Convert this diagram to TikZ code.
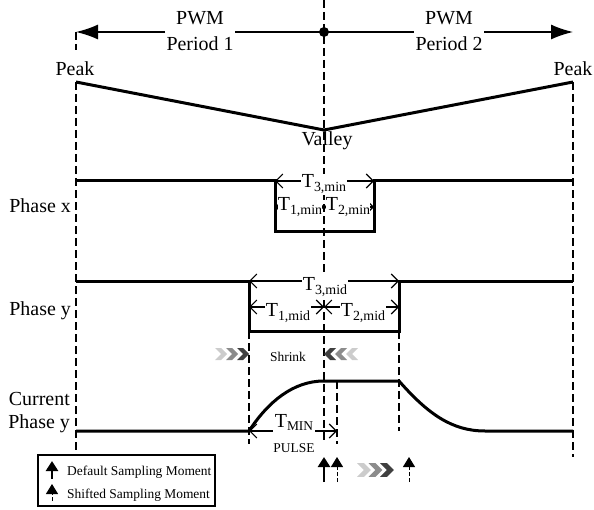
\documentclass[tikz,border=0pt]{standalone}
\usepackage{fontspec}
\setmainfont{Liberation Serif}
\usetikzlibrary{arrows.meta}
\newcommand\tsb[2]{#1\raisebox{-4bp}{\fontsize{14}{14}\selectfont #2}}
\newcommand\chevshape{(0,-6) -- (6,-6) -- (12,0) -- (6,6) -- (0,6) -- (6,0) -- cycle}
\definecolor{chlight}{gray}{0.8}
\definecolor{chmid}{gray}{0.55}
\definecolor{chdark}{gray}{0.25}
\begin{document}
\begin{tikzpicture}[x=1bp,y=-1bp,
  dsh/.style={line width=1.1bp, dash pattern=on 8bp off 4bp},
  sig/.style={line width=3bp, line join=miter},
  dimline/.style={line width=1.1bp, {Straight Barb[length=7bp,width=14bp]}-{Straight Barb[length=7bp,width=14bp]}},
  lbl/.style={font=\fontsize{20}{24}\selectfont, inner sep=0pt},
  wlbl/.style={lbl, fill=white, inner xsep=1bp, inner ysep=1bp, anchor=base},
  small/.style={font=\fontsize{13.5}{16}\selectfont, inner sep=0pt},
  samp/.style={line width=2.5bp, -{Triangle[length=10bp,width=12bp]}},
  sampd/.style={line width=1bp, dash pattern=on 4bp off 2bp, -{Triangle[length=10bp,width=12bp]}},
  bigarrow/.style={line width=1.3bp, -{Latex[length=22bp,width=15bp]}}
]
\useasboundingbox (0,0) rectangle (594,510);
% ---- coordinates
\coordinate (topL) at (76,32);
\coordinate (topR) at (573,32);
\coordinate (mid) at (324,32);
\coordinate (g1a) at (165,32); \coordinate (g1b) at (235,32);
\coordinate (g2a) at (414,32); \coordinate (g2b) at (484,32);
\coordinate (pkL) at (76,82); \coordinate (pkR) at (573,82); \coordinate (vly) at (324,130);
% ---- dashed guides
\draw[dsh] (topL) -- (76,50);
\draw[dsh] (pkL) -- (76,455);
\draw[dsh] (pkR) -- (573,457);
\draw[dsh] (324,0) -- (324,444);
\draw[dsh] (249,331) -- (249,444);
\draw[dsh] (337,381) -- (337,444);
\draw[dsh] (399,331) -- (399,431);
% ---- top arrow
\draw[bigarrow] (g1a) -- (topL);
\draw[line width=1.3bp] (g1b) -- (mid) -- (g2a);
\draw[bigarrow] (g2b) -- (topR);
\fill (mid) circle (5bp);
\node[lbl, anchor=base] (pwm1) at (200,25) {PWM};
\node[lbl, anchor=base] (per1) at (200,51) {Period 1};
\node[lbl, anchor=base] (pwm2) at (449,25) {PWM};
\node[lbl, anchor=base] (per2) at (449,51) {Period 2};
% ---- carrier
\draw[sig] (pkL) -- (vly) -- (pkR);
\node[lbl, anchor=base] (peakL) at (75,76) {Peak};
\node[lbl, anchor=base] (peakR) at (573,76) {Peak};
\node[lbl, anchor=base] (valley) at (327,146) {Valley};
% ---- phase x
\coordinate (x0) at (76,181); \coordinate (x1) at (275,181); \coordinate (x2) at (275,231);
\coordinate (x3) at (374,231); \coordinate (x4) at (374,181); \coordinate (x5) at (573,181);
\draw[sig] (x0) -- (x1) -- (x2) -- (x3) -- (x4) -- (x5);
\node[lbl, anchor=base east] (phx) at (71,213) {Phase x};
\coordinate (xm1) at (275,207); \coordinate (xm2) at (324,207); \coordinate (xm3) at (374,207);
\draw[dimline] (x1) -- (x4);
\draw[dimline] (xm1) -- (xm2);
\draw[dimline] (xm2) -- (xm3);
\node[wlbl] (t3min) at (324,188) {\tsb{T}{3,min}};
\node[wlbl, inner xsep=0.3bp] (t1min) at (300,211) {\tsb{T}{1,min}};
\node[wlbl, inner xsep=0.3bp] (t2min) at (348,211) {\tsb{T}{2,min}};
% ---- phase y
\coordinate (y0) at (76,281); \coordinate (y1) at (249,281); \coordinate (y2) at (249,331);
\coordinate (y3) at (399,331); \coordinate (y4) at (399,281); \coordinate (y5) at (573,281);
\draw[sig] (y0) -- (y1) -- (y2) -- (y3) -- (y4) -- (y5);
\node[lbl, anchor=base east] (phy) at (71,315) {Phase y};
\coordinate (ym1) at (249,307); \coordinate (ym2) at (324,307); \coordinate (ym3) at (399,307);
\draw[dimline] (y1) -- (y4);
\draw[dimline] (ym1) -- (ym2);
\draw[dimline] (ym2) -- (ym3);
\node[wlbl] (t3mid) at (325,290) {\tsb{T}{3,mid}};
\node[wlbl] (t1mid) at (288,316) {\tsb{T}{1,mid}};
\node[wlbl] (t2mid) at (363,316) {\tsb{T}{2,mid}};
% ---- shrink
\fill[chlight, shift={(215,354)}] \chevshape;
\fill[chmid, shift={(226,354)}] \chevshape;
\fill[chdark, shift={(237,354)}] \chevshape;
\fill[chdark, shift={(336,354)}, xscale=-1] \chevshape;
\fill[chmid, shift={(347,354)}, xscale=-1] \chevshape;
\fill[chlight, shift={(358,354)}, xscale=-1] \chevshape;
\node[small, anchor=base] (shrink) at (288,361) {Shrink};
% ---- current
\coordinate (c0) at (76,431); \coordinate (c1) at (249,431); \coordinate (c2) at (324,381);
\coordinate (c3) at (399,381); \coordinate (c4) at (485,431); \coordinate (c5) at (573,431);
\coordinate (cm) at (337,431);
\draw[sig] (c0) -- (c1) .. controls (268,402) and (293,381) .. (c2) -- (c3)
  .. controls (428,414) and (452,431) .. (c4) -- (c5);
\node[lbl, anchor=base east] (cur1) at (70,405) {Current};
\node[lbl, anchor=base east] (cur2) at (70,428) {Phase y};
\draw[dimline] (c1) -- (cm);
\node[wlbl, inner xsep=1.5bp] (tmin) at (294,427) {T\raisebox{-3.5bp}{\fontsize{13.5}{14}\selectfont MIN}};
\node[small, anchor=base] (pulse) at (294,452) {PULSE};
% ---- sampling moments
\draw[samp] (324,482) -- (324,457);
\draw[sampd] (337,482) -- (337,457);
\draw[sampd] (409,482) -- (409,457);
\begin{scope}[shift={(357,470)}, scale=1.15]
\fill[chlight] \chevshape;
\fill[chmid, shift={(10,0)}] \chevshape;
\fill[chdark, shift={(20,0)}] \chevshape;
\end{scope}
% ---- legend
\draw[line width=1.2bp] (38,455) rectangle (215,506);
\draw[samp] (52,479) -- (52,461);
\draw[sampd] (52,501) -- (52,484);
\node[small, anchor=base west] (leg1) at (67,475) {Default Sampling Moment};
\node[small, anchor=base west] (leg2) at (67,498) {Shifted Sampling Moment};
\end{tikzpicture}
\end{document}
